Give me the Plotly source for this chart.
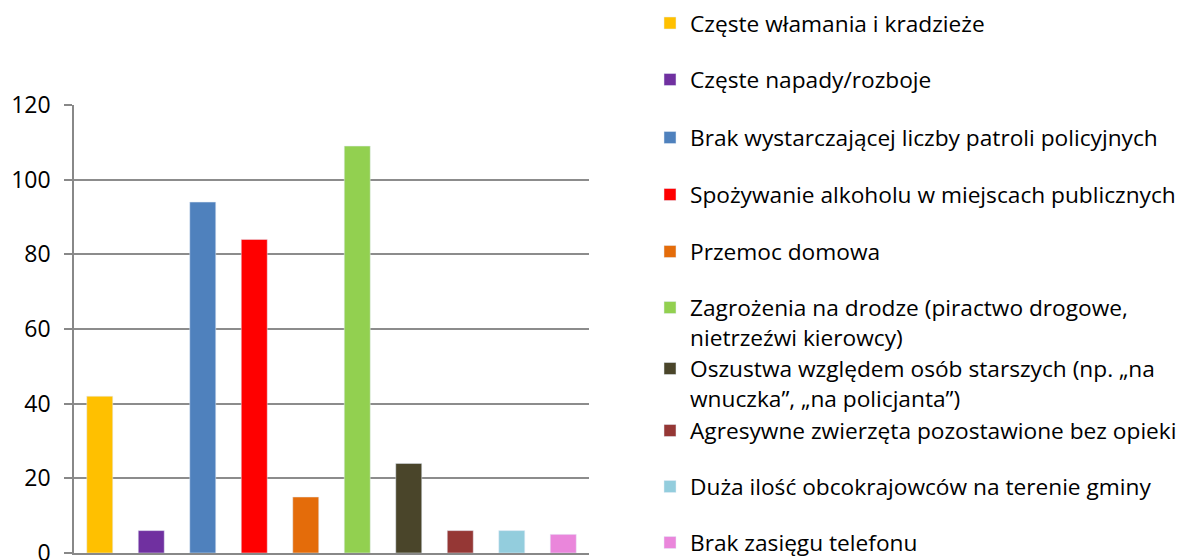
import plotly.graph_objects as go

# Problems reported by respondents and number of answers for each
categories = [
    "Częste włamania i kradzieże",
    "Częste napady/rozboje",
    "Brak wystarczającej liczby patroli policyjnych",
    "Spożywanie alkoholu w miejscach publicznych",
    "Przemoc domowa",
    "Zagrożenia na drodze (piractwo drogowe,<br>nietrzeźwi kierowcy)",
    "Oszustwa względem osób starszych (np. „na<br>wnuczka”, „na policjanta”)",
    "Agresywne zwierzęta pozostawione bez opieki",
    "Duża ilość obcokrajowców na terenie gminy",
    "Brak zasięgu telefonu",
]
values = [42, 6, 94, 84, 15, 109, 24, 6, 6, 5]
colors = ["#FFC000", "#7030A0", "#4F81BD", "#FF0000", "#E46C0A",
          "#92D050", "#4A452A", "#953735", "#93CDDD", "#EA86DB"]
y_ticks = [0, 20, 40, 60, 80, 100, 120]

W, H = 1198, 560
PL, PR, PT, PB = 74, 589, 105, 553  # plot area in pixels
FONT = "'Open Sans', sans-serif"
LEGEND_SIZE = 22.7

fig = go.Figure()

# legend square centres (pixels from top)
legend_px = [24.5, 81, 139, 196, 253, 309, 370, 432, 488, 544]
first_line_offset = 0.65 * LEGEND_SIZE + 8

layout_legends = {}
for i, (cat, val, col) in enumerate(zip(categories, values, colors)):
    name = "legend" if i == 0 else f"legend{i + 1}"
    fig.add_trace(go.Bar(
        x=[i], y=[val], name=cat, marker_color=col,
        legend=name, showlegend=True,
    ))
    top_px = legend_px[i] - first_line_offset
    layout_legends[name] = dict(
        x=(650 - PL) / (PR - PL),
        y=(PB - top_px) / (PB - PT),
        xanchor="left", yanchor="top",
        valign="top",
        bgcolor="rgba(0,0,0,0)",
        font=dict(family=FONT, size=LEGEND_SIZE, color="#000000"),
    )

fig.update_layout(
    width=W, height=H,
    margin=dict(l=PL, r=W - PR, t=PT, b=H - PB, autoexpand=False),
    paper_bgcolor="white", plot_bgcolor="white",
    barmode="relative", bargap=0.495,
    font=dict(family=FONT, size=LEGEND_SIZE, color="#000000"),
    **layout_legends,
)

fig.update_xaxes(
    range=[-0.5, len(values) - 0.5],
    showticklabels=False, showgrid=False, zeroline=False,
    showline=True, linecolor="#888888", linewidth=2,
    ticks="",
)
fig.update_yaxes(
    range=[0, 120], tickvals=y_ticks,
    showgrid=True, gridcolor="#8c8c8c", gridwidth=1.5,
    zeroline=False,
    showline=True, linecolor="#888888", linewidth=1.5,
    ticks="outside", ticklen=8, tickcolor="#888888", tickwidth=1.5,
    tickfont=dict(family=FONT, size=23, color="#000000"),
    ticklabelstandoff=9,
    ticklabeloverflow="allow",
)

fig.write_html("out.html")
